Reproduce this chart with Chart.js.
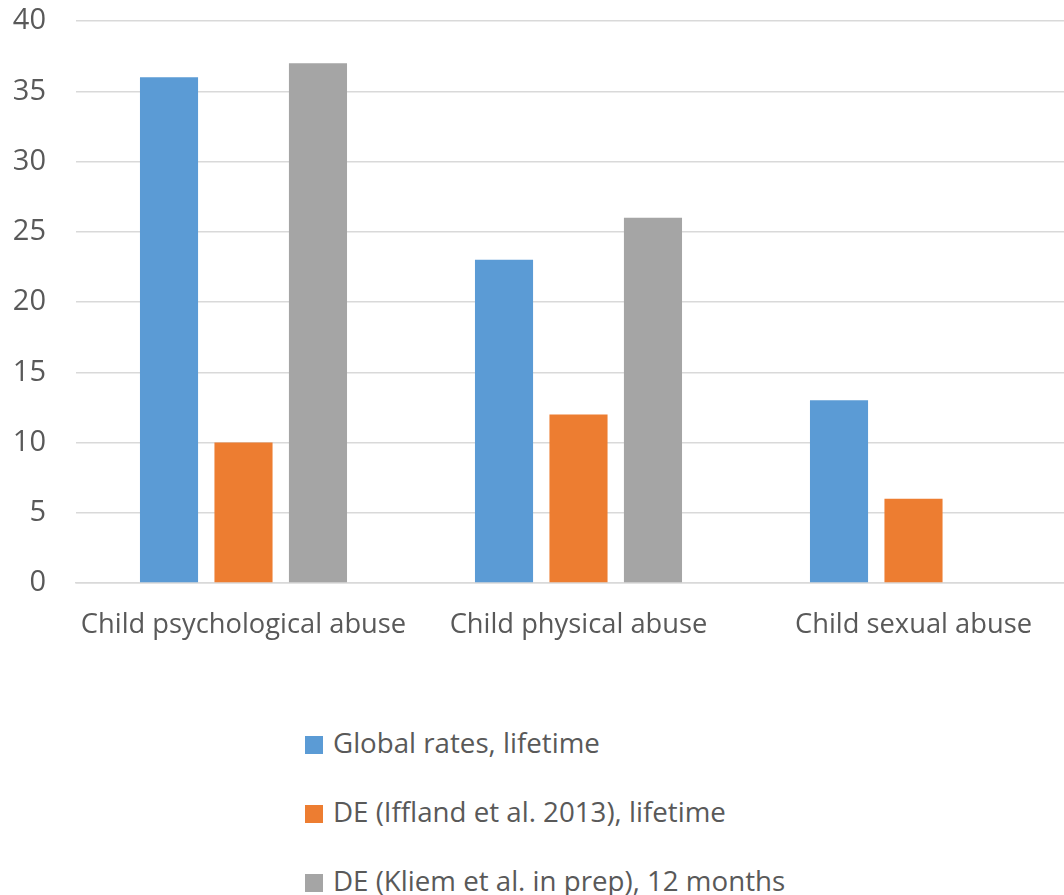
<!DOCTYPE html>
<html>
<head>
<meta charset="utf-8">
<script src="https://cdn.jsdelivr.net/npm/chart.js@4/dist/chart.umd.min.js"></script>
<style>
  html, body { margin: 0; padding: 0; background: #fff; overflow: hidden; }
  body { width: 1064px; height: 895px; position: relative; font-family: "Open Sans", sans-serif; }
  .chart-box { position: absolute; left: 0; top: 0; width: 1081px; height: 660px; }
  .legend { position: absolute; left: 305px; top: 724px; color: #595959; font-size: 27.7px; }
  .legend div { height: 69px; line-height: 36px; white-space: nowrap; }
  .legend span { display: inline-block; width: 18px; height: 18px; margin-right: 10px; vertical-align: -1px; }
</style>
</head>
<body>
<div class="chart-box"><canvas class="bar-chart"></canvas></div>
<div class="legend"></div>
<script>
const categories = ["Child psychological abuse", "Child physical abuse", "Child sexual abuse"];
const seriesNames = [
  "Global rates, lifetime",
  "DE (Iffland et al. 2013), lifetime",
  "DE (Kliem et al. in prep), 12 months"
];
const globalRates = [36, 23, 13];
const ifflandRates = [10, 12, 6];
const kliemRates = [37, 26, null];
const colors = ["#5B9BD5", "#ED7D31", "#A5A5A5"];

let ctx = document.querySelector(".bar-chart").getContext("2d");
let seriesData = [globalRates, ifflandRates, kliemRates];

let chart = new Chart(ctx, {
  type: "bar",
  data: {
    labels: categories,
    datasets: seriesData.map((d, i) => ({
      label: seriesNames[i],
      data: d,
      backgroundColor: colors[i],
      categoryPercentage: 0.667,
      barPercentage: 0.78,
    }))
  },
  options: {
    responsive: true,
    maintainAspectRatio: false,
    animation: false,
    layout: { padding: { top: 21, right: 0, left: 0, bottom: 0 } },
    plugins: {
      legend: { display: false },
      tooltip: { enabled: false }
    },
    scales: {
      x: {
        grid: { display: false, drawTicks: false },
        border: { color: "#d9d9d9", width: 1.5 },
        ticks: {
          color: "#595959",
          font: { family: "Open Sans", size: 27.3 },
          padding: 26,
          maxRotation: 0,
        },
        afterFit: s => { s.height = 77; }
      },
      y: {
        min: 0,
        max: 40,
        ticks: {
          stepSize: 5,
          color: "#595959",
          font: { family: "Open Sans", size: 29 },
          padding: 30,
        },
        grid: { color: "#d9d9d9", lineWidth: 1.5, drawTicks: false },
        border: { display: false },
        afterFit: s => {
          s.width = 76;
          // keep the top gridline at the padding edge
          s.paddingTop = 0;
          s.paddingBottom = 0;
        }
      }
    }
  }
});

// legend drawn as html, one entry per line like the original
let legendDiv = document.querySelector(".legend");
legendDiv.innerHTML = chart.data.datasets
  .map(ds => `<div><span style="background:${ds.backgroundColor}"></span>${ds.label}</div>`)
  .join("");
</script>
</body>
</html>
